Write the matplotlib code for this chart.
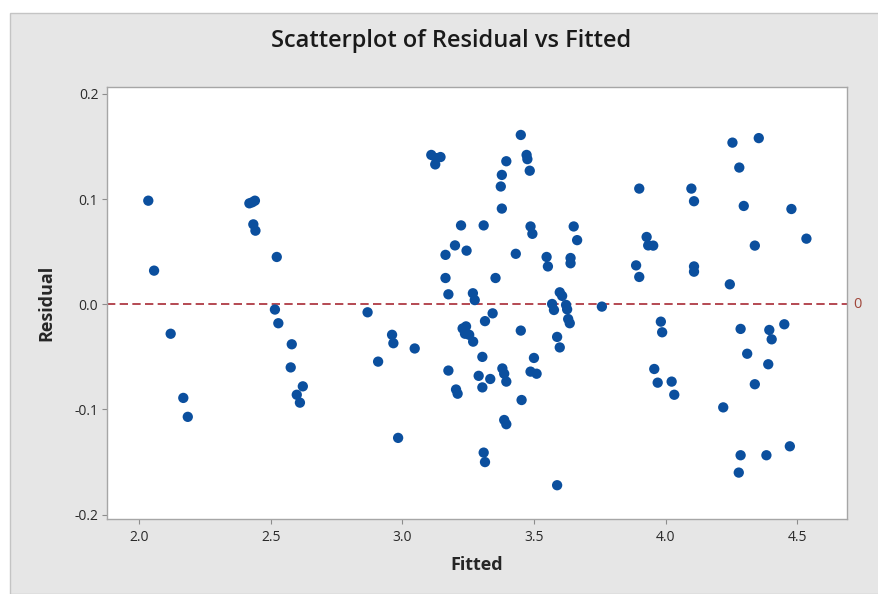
import matplotlib
matplotlib.use("Agg")
import matplotlib.pyplot as plt
from matplotlib.patches import Rectangle

plt.rcParams['font.family'] = ['Open Sans', 'DejaVu Sans']

# Data
fitted = [
    2.035, 2.057, 2.120, 2.168, 2.185, 2.419, 2.430, 2.440, 2.434, 2.442,
    2.523, 2.516, 2.529, 2.580, 2.576, 2.622, 2.599, 2.611,
    2.868, 2.961, 2.966, 2.908, 3.047, 2.984, 3.110, 3.128, 3.145, 3.125,
    3.223, 3.200, 3.164, 3.244, 3.164, 3.175, 3.309, 3.268, 3.275, 3.354,
    3.431, 3.378, 3.374, 3.378, 3.395, 3.450, 3.472, 3.475, 3.484, 3.487,
    3.494, 3.343, 3.314, 3.229, 3.242, 3.238, 3.254, 3.269, 3.304, 3.175,
    3.290, 3.334, 3.304, 3.380, 3.387, 3.395, 3.204, 3.210, 3.450, 3.500,
    3.487, 3.510, 3.453, 3.387, 3.395, 3.309, 3.314,
    3.651, 3.664, 3.548, 3.553, 3.639, 3.639, 3.598, 3.607, 3.569, 3.576,
    3.622, 3.626, 3.630, 3.636, 3.588, 3.598, 3.758, 3.588, 3.900, 3.928,
    3.934, 3.953, 3.888, 3.900, 4.098, 4.108, 4.108, 4.108, 3.982, 3.987,
    3.957, 3.970, 4.023, 4.033,
    4.254, 4.354, 4.280, 4.297, 4.478, 4.535, 4.339, 4.244, 4.285, 4.394,
    4.403, 4.451, 4.310, 4.390, 4.339, 4.219, 4.472, 4.285, 4.383, 4.278,
]
residual = [
    0.0985, 0.032, -0.028, -0.089, -0.107, 0.096, 0.097, 0.0985, 0.076, 0.070,
    0.045, -0.005, -0.018, -0.038, -0.060, -0.078, -0.086, -0.0935,
    -0.0076, -0.029, -0.037, -0.0545, -0.042, -0.127, 0.142, 0.139, 0.140, 0.133,
    0.075, 0.056, 0.047, 0.051, 0.025, 0.0095, 0.075, 0.0105, 0.004, 0.025,
    0.048, 0.091, 0.112, 0.123, 0.136, 0.161, 0.142, 0.138, 0.127, 0.074,
    0.067, -0.0086, -0.016, -0.023, -0.021, -0.028, -0.029, -0.0355, -0.050, -0.063,
    -0.068, -0.071, -0.079, -0.061, -0.066, -0.0735, -0.081, -0.085, -0.025, -0.051,
    -0.064, -0.066, -0.091, -0.110, -0.114, -0.141, -0.150,
    0.074, 0.061, 0.045, 0.036, 0.044, 0.039, 0.0114, 0.008, 0.0003, -0.0054,
    -0.0006, -0.0048, -0.014, -0.018, -0.031, -0.041, -0.0022, -0.172, 0.110, 0.064,
    0.056, 0.0558, 0.037, 0.026, 0.110, 0.098, 0.036, 0.031, -0.0165, -0.0266,
    -0.0615, -0.0745, -0.0735, -0.086,
    0.1537, 0.158, 0.130, 0.0935, 0.0906, 0.0624, 0.0558, 0.019, -0.0234, -0.0244,
    -0.0333, -0.019, -0.047, -0.057, -0.076, -0.098, -0.135, -0.1435, -0.1435, -0.160,
]
x_ticks = [2.0, 2.5, 3.0, 3.5, 4.0, 4.5]
x_tick_labels = ["2.0", "2.5", "3.0", "3.5", "4.0", "4.5"]
y_ticks = [-0.2, -0.1, 0.0, 0.1, 0.2]
y_tick_labels = ["-0.2", "-0.1", "0.0", "0.1", "0.2"]
ref_value = 0.0
ref_label = "0"

W, H = 879, 594
fig = plt.figure(figsize=(W / 100, H / 100), dpi=100, facecolor='white')

# Gray panel background with light border (top/left white strip)
panel = Rectangle((9.5 / W, 0), 1 - 9.5 / W, (H - 13) / H, transform=fig.transFigure,
                  facecolor='#e6e6e6', edgecolor='#c4c4c4', linewidth=1.0, zorder=-10)
fig.patches.append(panel)

ax = fig.add_axes([106.7 / W, (H - 519.3) / H, (846.7 - 106.7) / W, (519.3 - 87.3) / H])
ax.set_zorder(5)
ax.set_facecolor('white')

ax.scatter(fitted, residual, s=55, color='#0b4f9e', edgecolors='none', zorder=3)

ax.axhline(ref_value, color='#a82a35', linestyle=(0, (5, 2.6)), linewidth=1.2, zorder=2)
ax.annotate(ref_label, xy=(1.0, ref_value), xycoords=('axes fraction', 'data'),
            xytext=(7.5, 0), textcoords='offset points', ha='center', va='center',
            fontsize=10.5, color='#a0463a', annotation_clip=False)

ax.set_xlim(1.877, 4.688)
ax.set_ylim(-0.2044, 0.2063)
ax.set_xticks(x_ticks)
ax.set_xticklabels(x_tick_labels)
ax.set_yticks(y_ticks)
ax.set_yticklabels(y_tick_labels)

for sp in ax.spines.values():
    sp.set_color('#a6a6a6')
    sp.set_linewidth(1.0)
ax.tick_params(direction='out', length=3.5, width=0.8, color='#8c8c8c',
               labelsize=10, labelcolor='#2a2a2a', pad=2.5)
ax.tick_params(axis='x', pad=4)

ax.set_xlabel("Fitted", fontsize=13, fontweight='bold', color='#262626', labelpad=8)
ax.set_ylabel("Residual", fontsize=13, fontweight='bold', color='#262626')
ax.yaxis.set_label_coords((55 - 106.7) / 740, 0.5)

fig.text(451 / W, (H - 47) / H, "Scatterplot of Residual vs Fitted", ha='center',
         va='baseline', fontsize=17, fontweight='semibold', color='#1a1a1a')

fig.savefig("out.png", dpi=100, facecolor=fig.get_facecolor())
